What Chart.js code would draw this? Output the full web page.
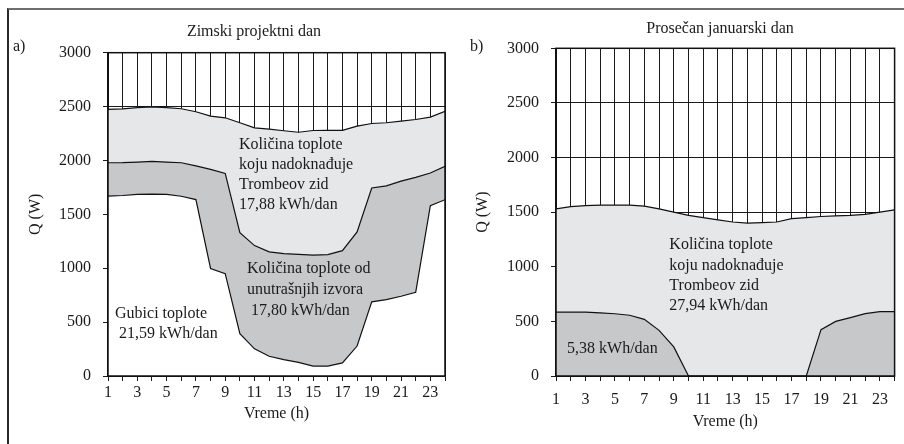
<!DOCTYPE html>
<html><head><meta charset="utf-8">
<script src="https://cdn.jsdelivr.net/npm/chart.js@4/dist/chart.umd.min.js"></script>
<style>
html,body{margin:0;padding:0;background:#fff;}
#wrap{position:relative;width:904px;height:444px;overflow:hidden;background:#fff;}
#frame{position:absolute;left:7px;top:8px;width:905px;height:450px;border-top:2px solid #6e6e6e;border-left:2px solid #2a2a2a;}
.pane{position:absolute;top:0;width:452px;height:444px;}
</style></head><body>
<div id="wrap">
<div id="frame"></div>
<div class="pane" style="left:0"><canvas id="ca" width="452" height="444"></canvas></div>
<div class="pane" style="left:452px"><canvas id="cb" width="452" height="444"></canvas></div>
</div>
<script>
// ---- data ----
const hours = [1,2,3,4,5,6,7,8,9,10,11,12,13,14,15,16,17,18,19,20,21,22,23,24];
const xLabelHours = [1,3,5,7,9,11,13,15,17,19,21,23];
const yTickValues = [0,500,1000,1500,2000,2500,3000];

// a) Zimski projektni dan
const aTrombe = [2474,2478,2490,2498,2490,2480,2452,2412,2396,2350,2303,2291,2276,2262,2278,2280,2280,2318,2343,2350,2365,2380,2402,2455];
const aInternal = [1979,1980,1985,1991,1985,1979,1950,1918,1880,1330,1210,1152,1136,1128,1121,1126,1163,1337,1745,1765,1808,1843,1884,1945];
const aLosses = [1670,1675,1685,1688,1686,1668,1637,998,950,392,252,183,152,127,92,92,122,278,688,708,740,777,1580,1636];

// b) Prosečan januarski dan
const bTrombe = [1530,1550,1560,1565,1565,1565,1555,1530,1500,1470,1450,1430,1410,1400,1405,1410,1440,1450,1460,1465,1470,1480,1500,1520];
const bLosses = [585,585,585,578,570,556,519,418,266,0,0,0,0,0,0,0,0,0,424,500,534,571,590,590];

const LIGHT = '#e6e7e9';
const DARK = '#c7c8ca';
const FONT = 'Liberation Serif';
const FSIZE = 16;
const TXT = '#1a1a1a';

const textPlugin = {
  id: 'texts',
  afterDatasetsDraw(chart, args, opts) {
    const {ctx, chartArea: ca, scales: {x, y}} = chart;
    ctx.save();
    ctx.lineWidth = 1.5;
    ctx.strokeStyle = '#111';
    ctx.strokeRect(ca.left, ca.top, ca.right - ca.left, ca.bottom - ca.top);
    ctx.font = FSIZE + 'px "' + FONT + '"';
    ctx.fillStyle = TXT;
    ctx.textBaseline = 'middle';
    ctx.textAlign = 'left';
    for (const n of opts.notes) {
      const px = x.getPixelForValue(n.x), py = y.getPixelForValue(n.y);
      n.lines.forEach((t, i) => ctx.fillText(t, px, py + i * n.lh));
    }
    for (const l of opts.labels) {
      ctx.textAlign = l.align;
      ctx.fillText(l.text, l.px, l.py);
    }
    ctx.restore();
  }
};

function makeChart(id, datasets, p) {
  return new Chart(document.getElementById(id), {
    type: 'line',
    data: {labels: hours, datasets},
    options: {
      responsive: false, animation: false, devicePixelRatio: 1,
      layout: {padding: {left: 0, right: p.right, top: p.top, bottom: 0}},
      elements: {point: {radius: 0}, line: {tension: 0, borderWidth: 1.2, borderColor: '#111'}},
      plugins: {
        legend: {display: false}, tooltip: {enabled: false}, title: {display: false},
        filler: {drawTime: 'beforeDatasetsDraw'},
        texts: {notes: p.notes, labels: p.labels}
      },
      scales: {
        x: {
          type: 'linear', min: 1, max: 24,
          afterBuildTicks: s => { s.ticks = hours.map(v => ({value: v})); },
          ticks: {
            autoSkip: false, maxRotation: 0, padding: p.xPad, color: TXT,
            font: {family: FONT, size: FSIZE},
            callback: v => xLabelHours.includes(v) ? String(v) : ''
          },
          grid: {color: '#1a1a1a', lineWidth: 1, tickLength: 5, drawOnChartArea: true},
          border: {color: '#111', width: 1.5},
          title: {display: true, text: 'Vreme (h)', color: TXT, font: {family: FONT, size: FSIZE}, padding: {top: 0, bottom: p.xTitlePad}},
          afterFit: s => { s.height = 68; }
        },
        y: {
          type: 'linear', min: 0, max: 3000,
          afterBuildTicks: s => { s.ticks = yTickValues.map(v => ({value: v})); },
          ticks: {padding: 12, color: TXT, font: {family: FONT, size: FSIZE}, callback: v => String(v)},
          grid: {color: '#1a1a1a', lineWidth: 1, tickLength: 5},
          border: {color: '#111', width: 1.5},
          title: {display: true, text: 'Q (W)', color: TXT, font: {family: FONT, size: FSIZE}, padding: {top: p.yTitlePad, bottom: 0}},
          afterFit: s => { s.width = p.yWidth; }
        }
      }
    },
    plugins: [textPlugin]
  });
}

makeChart('ca', [
  {data: aTrombe, fill: '+1', backgroundColor: LIGHT},
  {data: aInternal, fill: '+1', backgroundColor: DARK},
  {data: aLosses, fill: 'origin', backgroundColor: '#ffffff'}
], {
  right: 7, top: 52.7, yWidth: 108, xPad: 2.4, xTitlePad: 20.7, yTitlePad: 26.4,
  notes: [
    {x: 9.94, y: 2143, lh: 20, lines: ['Količina toplote', 'koju nadoknađuje', 'Trombeov zid', '17,88 kWh/dan']},
    {x: 10.49, y: 995, lh: 20.8, lines: ['Količina toplote od', 'unutrašnjih izvora', ' 17,80 kWh/dan']},
    {x: 1.48, y: 578, lh: 20, lines: ['Gubici toplote', ' 21,59 kWh/dan']}
  ],
  labels: [
    {text: 'Zimski projektni dan', px: 254, py: 31.5, align: 'center'},
    {text: 'a)', px: 13, py: 47, align: 'left'}
  ]
});

makeChart('cb', [
  {data: bTrombe, fill: '+1', backgroundColor: LIGHT},
  {data: bLosses, fill: 'origin', backgroundColor: DARK}
], {
  right: 2.3, top: 48.3, yWidth: 104, xPad: 9.4, xTitlePad: 12.4, yTitlePad: 21.4,
  notes: [
    {x: 8.7, y: 1197, lh: 20.3, lines: ['Količina toplote', 'koju nadoknađuje', 'Trombeov zid', '27,94 kWh/dan']},
    {x: 1.75, y: 250, lh: 20, lines: ['5,38 kWh/dan']}
  ],
  labels: [
    {text: 'Prosečan januarski dan', px: 268, py: 28.3, align: 'center'},
    {text: 'b)', px: 18, py: 47, align: 'left'}
  ]
});
</script>
</body></html>
